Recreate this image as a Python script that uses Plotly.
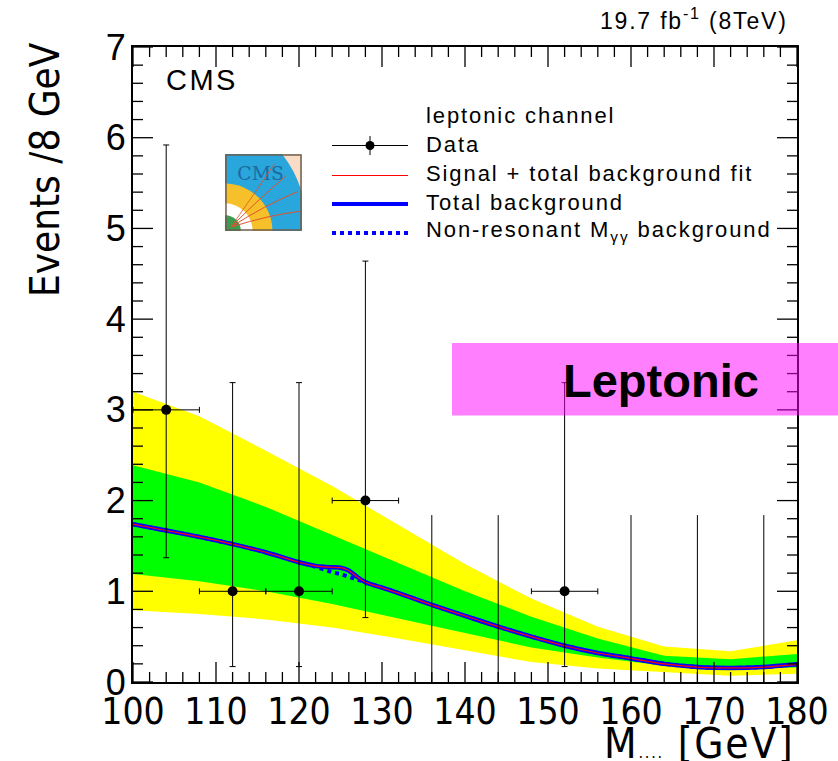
import base64
import plotly.graph_objects as go

# ---------------- data ----------------
data_x = [104, 112, 120, 128, 136, 144, 152, 160, 168, 176]
data_y = [3, 1, 1, 2, 0, 0, 1, 0, 0, 0]
data_err_hi = [2.92, 2.30, 2.30, 2.64, 1.84, 1.84, 2.30, 1.84, 1.84, 1.84]
data_err_lo = [1.63, 0.83, 0.83, 1.29, 0.0, 0.0, 0.83, 0.0, 0.0, 0.0]
bin_half = 4

bkg_x = [100, 104, 108, 112, 116, 120, 122, 123, 124, 125, 126, 127, 128, 130, 132,
         136, 140, 144, 148, 152, 156, 160, 164, 168, 172, 176, 180]
nonres_bkg = [1.74, 1.67, 1.60, 1.52, 1.43, 1.32, 1.27, 1.24, 1.21, 1.19, 1.16, 1.13, 1.10, 1.04, 0.98,
              0.85, 0.73, 0.61, 0.50, 0.40, 0.32, 0.26, 0.20, 0.165, 0.155, 0.165, 0.195]
total_bkg = [1.74, 1.67, 1.60, 1.52, 1.43, 1.32, 1.28, 1.27, 1.265, 1.26, 1.23, 1.16, 1.10, 1.04, 0.98,
             0.85, 0.73, 0.61, 0.50, 0.40, 0.32, 0.26, 0.20, 0.165, 0.155, 0.165, 0.195]
sig_plus_bkg = [1.74, 1.67, 1.60, 1.52, 1.43, 1.32, 1.28, 1.27, 1.265, 1.26, 1.23, 1.16, 1.10, 1.04, 0.98,
                0.85, 0.73, 0.61, 0.50, 0.40, 0.32, 0.26, 0.20, 0.165, 0.155, 0.165, 0.195]

band_x = [100, 108, 116, 124, 132, 140, 148, 156, 164, 172, 180]
yellow_hi = [3.20, 2.93, 2.55, 2.16, 1.73, 1.30, 0.92, 0.61, 0.39, 0.34, 0.46]
green_hi = [2.39, 2.20, 1.93, 1.62, 1.31, 1.00, 0.72, 0.48, 0.29, 0.25, 0.31]
green_lo = [1.19, 1.11, 1.00, 0.86, 0.70, 0.54, 0.38, 0.27, 0.18, 0.15, 0.16]
yellow_lo = [0.79, 0.75, 0.69, 0.60, 0.48, 0.35, 0.22, 0.15, 0.11, 0.07, 0.09]

x_range = [100, 180]
y_range = [0, 7]
x_major = list(range(100, 181, 10))
x_minor = [v for v in range(100, 181, 2) if v % 10 != 0]
y_major = list(range(0, 8))
y_minor = [round(0.2 * k, 1) for k in range(0, 36) if k % 5 != 0]

# ---------------- geometry helpers ----------------
W, H = 838, 761
ML, MR, MT, MB = 133, 41, 47, 79
PW, PH = W - ML - MR, H - MT - MB


def fx(p):
    return (p - ML) / PW


def fy(p):
    return (H - MB - p) / PH


def xfrac(v):
    return (v - x_range[0]) / (x_range[1] - x_range[0])


def yfrac(v):
    return (v - y_range[0]) / (y_range[1] - y_range[0])


NARROW = "Liberation Sans Narrow, DejaVu Sans Condensed, Arial Narrow, sans-serif"
SANS = "Liberation Sans, Arial, Helvetica, sans-serif"


def spaced(txt, sp=1.5):
    return '<span style="letter-spacing:%spx">%s</span>' % (sp, txt)


fig = go.Figure()

# bands
fig.add_trace(go.Scatter(x=band_x + band_x[::-1], y=yellow_hi + yellow_lo[::-1],
                         fill="toself", fillcolor="#ffff00", line=dict(width=0),
                         mode="lines", hoverinfo="skip", showlegend=False))
fig.add_trace(go.Scatter(x=band_x + band_x[::-1], y=green_hi + green_lo[::-1],
                         fill="toself", fillcolor="#00ff00", line=dict(width=0),
                         mode="lines", hoverinfo="skip", showlegend=False))

# background curves
fig.add_trace(go.Scatter(x=bkg_x, y=nonres_bkg, mode="lines",
                         line=dict(color="#0000ff", width=4, dash="dot", shape="spline", smoothing=0.6),
                         showlegend=False))
fig.add_trace(go.Scatter(x=bkg_x, y=total_bkg, mode="lines",
                         line=dict(color="#0000ff", width=4.5, shape="spline", smoothing=0.6),
                         showlegend=False))
fig.add_trace(go.Scatter(x=bkg_x, y=sig_plus_bkg, mode="lines",
                         line=dict(color="#ff0000", width=1.2, shape="spline", smoothing=0.6),
                         showlegend=False))

# data: non-empty bins
nz = [i for i, v in enumerate(data_y) if v > 0]
z = [i for i, v in enumerate(data_y) if v == 0]
fig.add_trace(go.Scatter(
    x=[data_x[i] for i in nz], y=[data_y[i] for i in nz], mode="markers",
    marker=dict(color="black", size=10),
    error_y=dict(type="data", symmetric=False, array=[data_err_hi[i] for i in nz],
                 arrayminus=[data_err_lo[i] for i in nz], color="black", thickness=1, width=3),
    error_x=dict(type="constant", value=bin_half, color="black", thickness=1, width=3),
    showlegend=False))
# data: empty bins
fig.add_trace(go.Scatter(
    x=[data_x[i] for i in z], y=[data_y[i] for i in z], mode="markers",
    marker=dict(color="black", size=1, opacity=0),
    error_y=dict(type="data", symmetric=False, array=[data_err_hi[i] for i in z],
                 arrayminus=[data_err_lo[i] for i in z], color="black", thickness=1, width=0),
    showlegend=False))

# ---------------- axes ----------------
fig.update_xaxes(range=x_range, tickmode="array", tickvals=x_major, ticktext=[str(v) for v in x_major],
                 ticks="", showline=True, linewidth=2, linecolor="black", mirror=True,
                 showgrid=False, zeroline=False, ticklabelstandoff=-4,
                 tickfont=dict(family=NARROW, size=37, color="black"))
fig.update_yaxes(range=y_range, tickmode="array", tickvals=y_major, ticktext=[str(v) for v in y_major],
                 ticks="", showline=True, linewidth=2, linecolor="black", mirror=True,
                 showgrid=False, zeroline=False, ticklabelstandoff=-2,
                 tickfont=dict(family=SANS, size=36, color="black"))

# ---------------- tick marks (inside, all four sides) ----------------
shapes = []
tick_line = dict(color="black", width=1.3)
for v in x_major + x_minor:
    ln = 20 if v in x_major else 10
    xp = xfrac(v)
    shapes.append(dict(type="line", xref="paper", yref="paper", x0=xp, x1=xp, y0=0, y1=ln / PH,
                       line=tick_line, layer="above"))
    shapes.append(dict(type="line", xref="paper", yref="paper", x0=xp, x1=xp, y0=1, y1=1 - ln / PH,
                       line=tick_line, layer="above"))
for v in y_major + y_minor:
    ln = 20 if v in y_major else 10
    yp = yfrac(v)
    shapes.append(dict(type="line", xref="paper", yref="paper", x0=0, x1=ln / PW, y0=yp, y1=yp,
                       line=tick_line, layer="above"))
    shapes.append(dict(type="line", xref="paper", yref="paper", x0=1, x1=1 - ln / PW, y0=yp, y1=yp,
                       line=tick_line, layer="above"))

# ---------------- annotations ----------------
ann = []
ann.append(dict(text="Events /8 GeV", x=fx(45), y=fy(170), xref="paper", yref="paper",
                textangle=-90, showarrow=False, xanchor="center", yanchor="middle",
                font=dict(family=NARROW, size=40, color="black")))
ann.append(dict(text=spaced('M<span style="font-size:16px">....</span> [GeV]', 1.8),
                x=fx(797), y=fy(743), xref="paper", yref="paper",
                showarrow=False, xanchor="right", yanchor="middle",
                font=dict(family=NARROW, size=42, color="black")))
ann.append(dict(text=spaced("19.7 fb<sup>-1</sup> (8TeV)", 1.8), x=fx(790), y=fy(19), xref="paper", yref="paper",
                showarrow=False, xanchor="right", yanchor="middle",
                font=dict(family=SANS, size=23, color="black")))
ann.append(dict(text=spaced("CMS", 2.5), x=fx(164), y=fy(80), xref="paper", yref="paper",
                showarrow=False, xanchor="left", yanchor="middle",
                font=dict(family=SANS, size=29, color="black")))
ann.append(dict(text="<b>Leptonic</b>", x=fx(561), y=fy(380), xref="paper", yref="paper",
                showarrow=False, xanchor="left", yanchor="middle",
                font=dict(family=SANS, size=47, color="black")))

# legend (drawn by hand to match wide symbols)
leg_text_x = fx(424)
rows = [("leptonic channel", 115), ("Data", 144), ("Signal + total background fit", 173),
        ("Total background", 202), ("Non-resonant M<sub>γγ</sub> background", 231)]
for txt, yy in rows:
    ann.append(dict(text=spaced(txt, 1.9), x=leg_text_x, y=fy(yy), xref="paper", yref="paper",
                    showarrow=False, xanchor="left", yanchor="middle",
                    font=dict(family=SANS, size=22, color="black")))

sx0, sx1 = fx(332), fx(408)
shapes.append(dict(type="line", xref="paper", yref="paper", x0=sx0, x1=sx1, y0=fy(145.5), y1=fy(145.5),
                   line=dict(color="black", width=1)))
shapes.append(dict(type="line", xref="paper", yref="paper", x0=fx(370), x1=fx(370), y0=fy(136), y1=fy(155),
                   line=dict(color="black", width=1)))
shapes.append(dict(type="circle", xref="paper", yref="paper", x0=fx(365.5), x1=fx(374.5),
                   y0=fy(150), y1=fy(141), fillcolor="black", line=dict(color="black", width=0)))
shapes.append(dict(type="line", xref="paper", yref="paper", x0=sx0, x1=sx1, y0=fy(175.5), y1=fy(175.5),
                   line=dict(color="#ff0000", width=1)))
shapes.append(dict(type="line", xref="paper", yref="paper", x0=sx0, x1=sx1, y0=fy(204), y1=fy(204),
                   line=dict(color="#0000ff", width=4)))
shapes.append(dict(type="line", xref="paper", yref="paper", x0=sx0, x1=sx1, y0=fy(233), y1=fy(233),
                   line=dict(color="#0000ff", width=4, dash="dot")))
# Leptonic box (semi-transparent magenta above the frame)
shapes.append(dict(type="rect", xref="paper", yref="paper", x0=fx(452), x1=fx(845),
                   y0=fy(415.5), y1=fy(343), fillcolor="#ff00ff", opacity=0.5,
                   line=dict(width=0), layer="above"))

svg = """<svg xmlns="http://www.w3.org/2000/svg" width="78" height="78" viewBox="0 0 78 78">
<rect x="0" y="0" width="78" height="78" fill="#f8dcc6"/>
<path d="M0,78 L0,-30 A84,110 0 0 1 84,78 Z" fill="#29a6dc"/>
<path d="M0,78 L0,30 A48,48 0 0 1 48,78 Z" fill="#f5c02a"/>
<path d="M0,78 L0,50 A28,28 0 0 1 28,78 Z" fill="#ffffff"/>
<path d="M0,78 L0,62 A16,16 0 0 1 16,78 Z" fill="#3b9b4f"/>
<text x="36" y="26" font-family="DejaVu Serif, serif" font-size="19" fill="#1d5a93" text-anchor="middle" opacity="0.8">CMS</text>
<path d="M6,74 Q40,52 74,38" stroke="#e3502a" fill="none" stroke-width="1"/>
<path d="M6,74 Q36,44 62,22" stroke="#e3502a" fill="none" stroke-width="1"/>
<path d="M6,74 Q44,62 76,58" stroke="#e3502a" fill="none" stroke-width="1"/>
<path d="M6,74 Q30,40 50,10" stroke="#e3502a" fill="none" stroke-width="0.8"/>
<rect x="1" y="1" width="76" height="76" fill="none" stroke="#6d5c4c" stroke-width="1.5"/>
</svg>"""
logo_src = "data:image/svg+xml;base64," + base64.b64encode(svg.encode("utf-8")).decode("ascii")

fig.update_layout(
    width=W, height=H,
    margin=dict(l=ML, r=MR, t=MT, b=MB, autoexpand=False),
    paper_bgcolor="white", plot_bgcolor="white",
    showlegend=False,
    annotations=ann, shapes=shapes,
    images=[dict(source=logo_src, xref="paper", yref="paper", x=fx(225), y=fy(154),
                 sizex=77 / PW, sizey=77 / PH, xanchor="left", yanchor="top",
                 sizing="stretch", layer="above")],
)

fig.write_html("out.html")
